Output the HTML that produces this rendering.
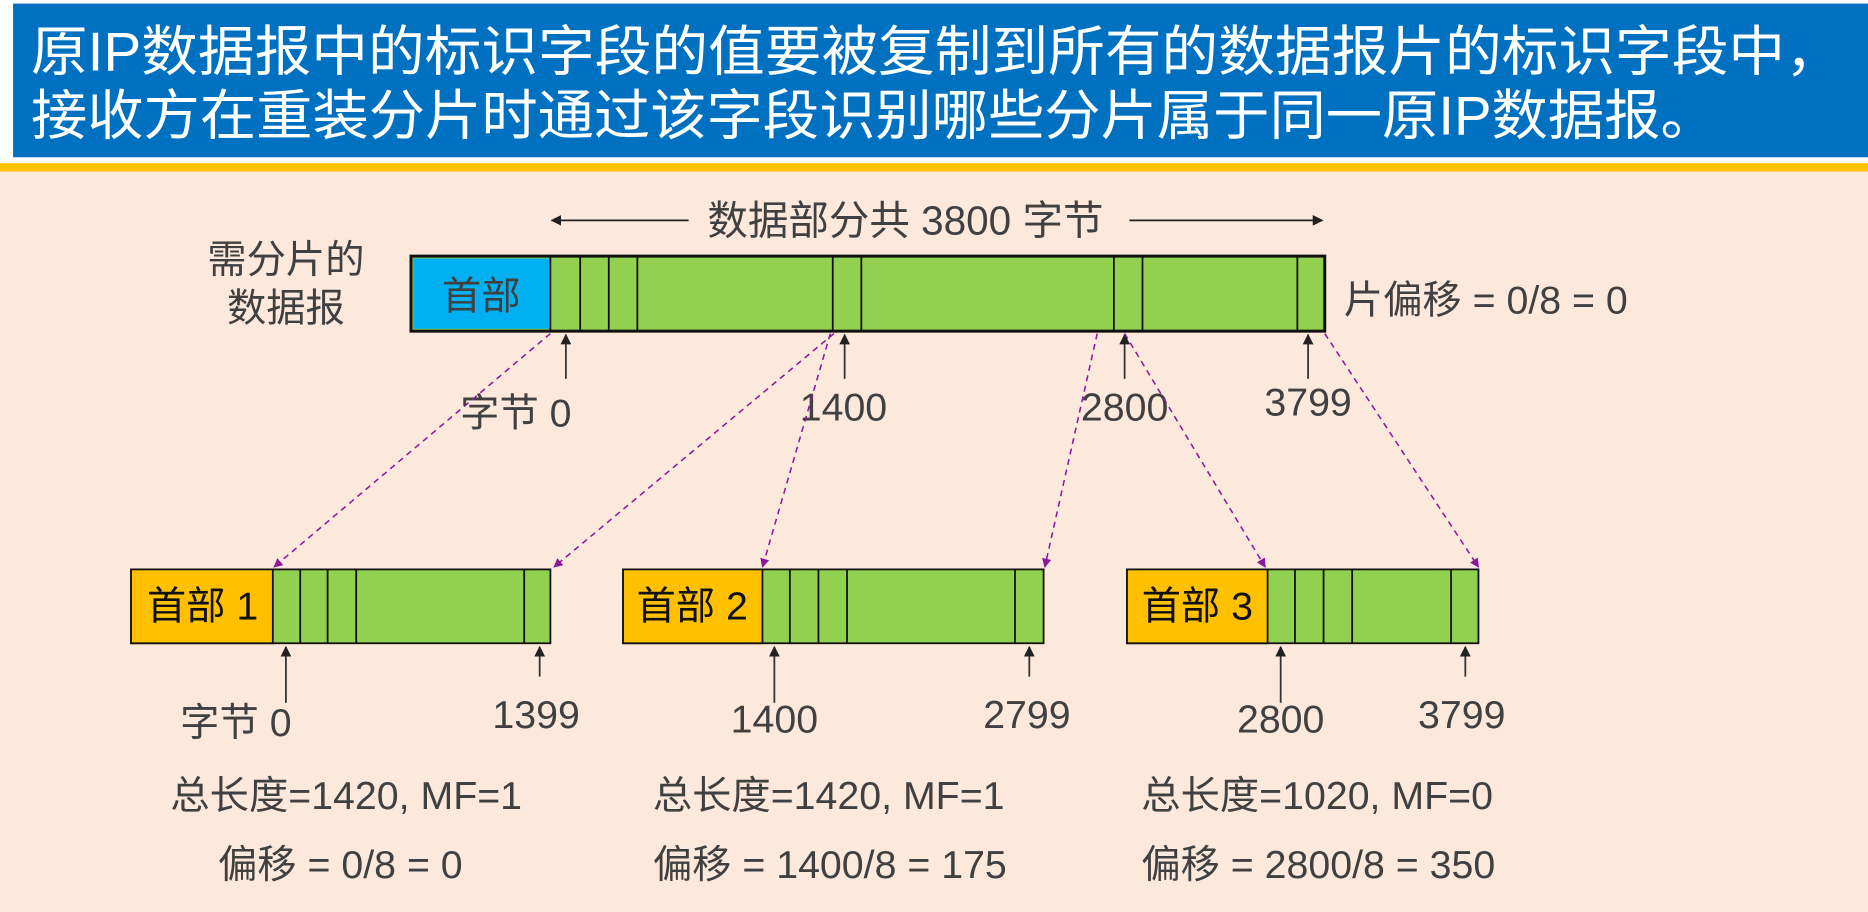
<!DOCTYPE html>
<html><head><meta charset="utf-8"><style>
html,body{margin:0;padding:0;background:#fff;}
svg{display:block;}
text{font-family:"Liberation Sans","Noto Sans CJK SC",sans-serif;}
</style></head><body>
<svg width="1868" height="912" viewBox="0 0 1568 765.6" preserveAspectRatio="none" xmlns="http://www.w3.org/2000/svg">
<defs>
<marker id="ab" viewBox="0 0 10 10" refX="9" refY="5" markerWidth="6" markerHeight="6" orient="auto-start-reverse"><path d="M0,0 L10,5 L0,10 z" fill="#222"/></marker>
<marker id="ap" viewBox="0 0 10 10" refX="9" refY="5" markerWidth="6" markerHeight="6" orient="auto"><path d="M0,0 L10,5 L0,10 z" fill="#8B1A9B"/></marker>
</defs>
<rect x="0" y="0" width="1568" height="766" fill="#fff"/>
<rect x="11" y="3" width="1557" height="129" fill="#0070C0"/>
<text x="26" y="59" font-size="46" fill="#fff" textLength="1520" lengthAdjust="spacingAndGlyphs">原IP数据报中的标识字段的值要被复制到所有的数据报片的标识字段中，</text>
<text x="26" y="113" font-size="46" fill="#fff" textLength="1415" lengthAdjust="spacingAndGlyphs">接收方在重装分片时通过该字段识别哪些分片属于同一原IP数据报。</text>
<rect x="0" y="137" width="1568" height="7" fill="#FFC000"/>
<rect x="0" y="144" width="1568" height="622" fill="#FDE9DC"/>

<g>
<rect x="345" y="215" width="767" height="63" fill="#92D050" stroke="#111" stroke-width="2.5"/>
<rect x="347" y="217" width="115" height="59" fill="#00B0F0"/>
<line x1="462" y1="215" x2="462" y2="278" stroke="#111" stroke-width="1.5"/>
<g stroke="#111" stroke-width="1.5">
<line x1="487" y1="215" x2="487" y2="278"/><line x1="511" y1="215" x2="511" y2="278"/><line x1="535" y1="215" x2="535" y2="278"/>
<line x1="699" y1="215" x2="699" y2="278"/><line x1="723" y1="215" x2="723" y2="278"/>
<line x1="935" y1="215" x2="935" y2="278"/><line x1="959" y1="215" x2="959" y2="278"/>
<line x1="1089" y1="215" x2="1089" y2="278"/>
</g>
<text x="404" y="260" font-size="33" fill="#404040" text-anchor="middle">首部</text>
</g>
<text x="240" y="229" font-size="33" fill="#404040" text-anchor="middle">需分片的</text>
<text x="240" y="270" font-size="33" fill="#404040" text-anchor="middle">数据报</text>
<text x="1128" y="263" font-size="33" fill="#404040">片偏移 = 0/8 = 0</text>
<g stroke="#222" stroke-width="1.5">
<line x1="578" y1="185" x2="463" y2="185" marker-end="url(#ab)"/>
<line x1="948" y1="185" x2="1110" y2="185" marker-end="url(#ab)"/>
</g>
<text x="760" y="197" font-size="34" fill="#404040" text-anchor="middle">数据部分共 3800 字节</text>

<g stroke="#333" stroke-width="1.5">
<line x1="475" y1="318" x2="475" y2="281" marker-end="url(#ab)"/>
<line x1="709" y1="318" x2="709" y2="281" marker-end="url(#ab)"/>
<line x1="944" y1="318" x2="944" y2="281" marker-end="url(#ab)"/>
<line x1="1098" y1="318" x2="1098" y2="281" marker-end="url(#ab)"/>
</g>
<g font-size="33" fill="#404040" text-anchor="middle">
<text x="433" y="358">字节 0</text>
<text x="708" y="353">1400</text>
<text x="944" y="353">2800</text>
<text x="1098" y="349">3799</text>
</g>

<g stroke="#8B1A9B" stroke-width="1.3" stroke-dasharray="5,4" fill="none">
<line x1="462" y1="280" x2="230" y2="476" marker-end="url(#ap)"/>
<line x1="700" y1="280" x2="465" y2="476" marker-end="url(#ap)"/>
<line x1="697" y1="280" x2="640" y2="476" marker-end="url(#ap)"/>
<line x1="921" y1="280" x2="877" y2="476" marker-end="url(#ap)"/>
<line x1="944" y1="280" x2="1062" y2="476" marker-end="url(#ap)"/>
<line x1="1112" y1="280" x2="1241" y2="476" marker-end="url(#ap)"/>
</g>

<g stroke="#111" stroke-width="1.5">
<rect x="110" y="478" width="352" height="62" fill="#92D050"/>
<rect x="110" y="478" width="119" height="62" fill="#FFC000"/>
<line x1="252" y1="478" x2="252" y2="540"/><line x1="275" y1="478" x2="275" y2="540"/><line x1="299" y1="478" x2="299" y2="540"/><line x1="440" y1="478" x2="440" y2="540"/>
</g>
<g stroke="#111" stroke-width="1.5">
<rect x="523" y="478" width="353" height="62" fill="#92D050"/>
<rect x="523" y="478" width="117" height="62" fill="#FFC000"/>
<line x1="663" y1="478" x2="663" y2="540"/><line x1="687" y1="478" x2="687" y2="540"/><line x1="711" y1="478" x2="711" y2="540"/><line x1="852" y1="478" x2="852" y2="540"/>
</g>
<g stroke="#111" stroke-width="1.5">
<rect x="946" y="478" width="295" height="62" fill="#92D050"/>
<rect x="946" y="478" width="118" height="62" fill="#FFC000"/>
<line x1="1087" y1="478" x2="1087" y2="540"/><line x1="1111" y1="478" x2="1111" y2="540"/><line x1="1135" y1="478" x2="1135" y2="540"/><line x1="1218" y1="478" x2="1218" y2="540"/>
</g>
<g font-size="33" fill="#111" text-anchor="middle">
<text x="170" y="520">首部 1</text>
<text x="581" y="520">首部 2</text>
<text x="1005" y="520">首部 3</text>
</g>

<g stroke="#333" stroke-width="1.5">
<line x1="240" y1="590" x2="240" y2="543" marker-end="url(#ab)"/>
<line x1="453" y1="568" x2="453" y2="543" marker-end="url(#ab)"/>
<line x1="650" y1="590" x2="650" y2="543" marker-end="url(#ab)"/>
<line x1="864" y1="568" x2="864" y2="543" marker-end="url(#ab)"/>
<line x1="1075" y1="590" x2="1075" y2="543" marker-end="url(#ab)"/>
<line x1="1230" y1="568" x2="1230" y2="543" marker-end="url(#ab)"/>
</g>
<g font-size="33" fill="#404040" text-anchor="middle">
<text x="198" y="618">字节 0</text>
<text x="450" y="611">1399</text>
<text x="650" y="615">1400</text>
<text x="862" y="611">2799</text>
<text x="1075" y="615">2800</text>
<text x="1227" y="611">3799</text>
</g>
<g font-size="33" fill="#404040">
<text x="143" y="679">总长度=1420, MF=1</text>
<text x="548" y="679">总长度=1420, MF=1</text>
<text x="958" y="679">总长度=1020, MF=0</text>
<text x="183" y="737">偏移 = 0/8 = 0</text>
<text x="548" y="737">偏移 = 1400/8 = 175</text>
<text x="958" y="737">偏移 = 2800/8 = 350</text>
</g>
</svg>
</body></html>
